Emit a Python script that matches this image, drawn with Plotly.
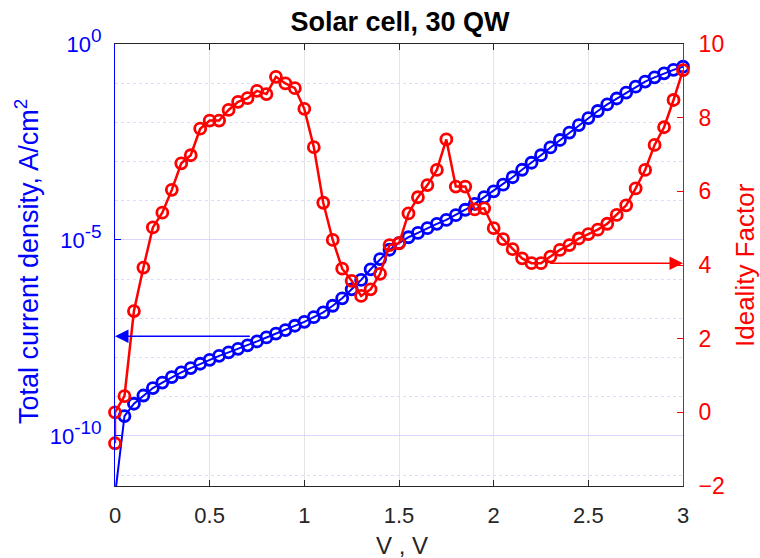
import plotly.graph_objects as go

# ---- data ----
voltage = [0.00, 0.05, 0.10, 0.15, 0.20, 0.25, 0.30, 0.35, 0.40, 0.45,
           0.50, 0.55, 0.60, 0.65, 0.70, 0.75, 0.80, 0.85, 0.90, 0.95,
           1.00, 1.05, 1.10, 1.15, 1.20, 1.25, 1.30, 1.35, 1.40, 1.45,
           1.50, 1.55, 1.60, 1.65, 1.70, 1.75, 1.80, 1.85, 1.90, 1.95,
           2.00, 2.05, 2.10, 2.15, 2.20, 2.25, 2.30, 2.35, 2.40, 2.45,
           2.50, 2.55, 2.60, 2.65, 2.70, 2.75, 2.80, 2.85, 2.90, 2.95, 3.00]

# current density (A/cm^2)
current_density = [3e-12, 3.2e-10, 6.6e-10, 1.07e-09, 1.66e-09, 2.29e-09, 3.16e-09, 4.17e-09, 5.37e-09, 6.92e-09,
                   8.71e-09, 1.10e-08, 1.35e-08, 1.66e-08, 2.04e-08, 2.57e-08, 3.24e-08, 4.07e-08, 5.01e-08, 6.46e-08,
                   8.13e-08, 1.07e-07, 1.41e-07, 2.09e-07, 3.24e-07, 5.50e-07, 9.55e-07, 1.78e-06, 3.24e-06, 5.62e-06,
                   8.32e-06, 1.17e-05, 1.51e-05, 2.00e-05, 2.57e-05, 3.24e-05, 4.27e-05, 5.89e-05, 8.32e-05, 1.23e-04,
                   1.74e-04, 2.57e-04, 3.98e-04, 6.17e-04, 9.33e-04, 1.45e-03, 2.29e-03, 3.55e-03, 5.50e-03, 8.51e-03,
                   1.29e-02, 1.95e-02, 2.88e-02, 4.07e-02, 5.75e-02, 8.13e-02, 1.10e-01, 1.41e-01, 1.78e-01, 2.19e-01, 2.63e-01]

ideality_voltage = [0.00] + voltage
ideality_factor = [-0.84, 0.00, 0.44, 2.75, 3.93, 5.02, 5.42, 6.04, 6.76, 6.98, 7.70,
                   7.92, 7.92, 8.21, 8.43, 8.53, 8.73, 8.64, 9.11, 8.93, 8.80,
                   8.24, 7.20, 5.69, 4.68, 3.90, 3.57, 3.16, 3.34, 3.76, 4.54,
                   4.59, 5.40, 5.84, 6.17, 6.58, 7.41, 6.13, 6.13, 5.51, 5.54,
                   5.00, 4.70, 4.43, 4.18, 4.05, 4.05, 4.23, 4.41, 4.54, 4.72,
                   4.84, 4.96, 5.12, 5.36, 5.62, 6.08, 6.58, 7.26, 7.74, 8.48, 9.29]

x_ticks = [0, 0.5, 1, 1.5, 2, 2.5, 3]
x_tick_labels = ["0", "0.5", "1", "1.5", "2", "2.5", "3"]
y_ticks = [1e0, 1e-5, 1e-10]
y_tick_exponents = ["0", "-5", "-10"]
y2_ticks = [-2, 0, 2, 4, 6, 8, 10]

FONT = "Liberation Sans, Arial, sans-serif"
BLUE = "#0000ff"
RED = "#ff0000"

y_tick_labels = ['10<sup><span style="font-size:19px">%s</span></sup>' % e for e in y_tick_exponents]

fig = go.Figure()
# blue line (clipped at the axes so the V=0 point runs off the bottom)
fig.add_trace(go.Scatter(
    x=voltage, y=current_density, mode="lines", yaxis="y",
    line=dict(color=BLUE, width=2), cliponaxis=True, showlegend=False))
# blue markers (points inside the axes)
fig.add_trace(go.Scatter(
    x=voltage[1:], y=current_density[1:], mode="markers", yaxis="y",
    marker=dict(symbol="circle-open", size=11, color=BLUE, line=dict(width=2.8, color=BLUE)),
    cliponaxis=False, showlegend=False))
fig.add_trace(go.Scatter(
    x=ideality_voltage, y=ideality_factor, mode="lines+markers", yaxis="y2",
    line=dict(color=RED, width=2.5),
    marker=dict(symbol="circle-open", size=11, color=RED, line=dict(width=2.8, color=RED)),
    cliponaxis=False, showlegend=False))

fig.update_layout(
    width=760, height=558,
    margin=dict(l=115, r=77, t=44, b=72, autoexpand=False),
    paper_bgcolor="white", plot_bgcolor="white",
    font=dict(family=FONT),
    title=dict(text="<b>Solar cell, 30 QW</b>", x=(400 / 760), xanchor="center",
               y=1 - 22 / 558, yanchor="middle", yref="container",
               font=dict(size=27, color="#000000", family=FONT)),
    xaxis=dict(range=[0, 3], tickvals=x_ticks, ticktext=x_tick_labels,
               showline=True, linecolor="#262626", linewidth=1, mirror="ticks",
               ticks="inside", ticklen=6, tickcolor="#262626",
               showgrid=True, gridcolor="#e3e3e3", gridwidth=1,
               zeroline=False, ticklabelstandoff=10,
               tickfont=dict(size=22, color="#262626", family=FONT)),
    yaxis=dict(type="log", range=[-11.28, 0],
               tickvals=y_ticks, ticktext=y_tick_labels,
               showline=True, linecolor=BLUE, linewidth=1,
               ticks="inside", ticklen=6, tickcolor=BLUE,
               showgrid=True, gridcolor="#d6d6ff", gridwidth=1,
               minor=dict(dtick=1, showgrid=True, gridcolor="#dcdcff", griddash="dot", ticks=""),
               zeroline=False, ticklabelstandoff=8,
               tickfont=dict(size=22, color=BLUE, family=FONT)),
    yaxis2=dict(range=[-2, 10], tickvals=y2_ticks, overlaying="y", side="right",
                showline=True, linecolor=RED, linewidth=1,
                ticks="inside", ticklen=6, tickcolor=RED,
                showgrid=False, zeroline=False, ticklabelstandoff=10,
                tickfont=dict(size=23, color=RED, family=FONT)),
    annotations=[
        dict(text="Total current density, A/cm<sup>2</sup>", xref="paper", yref="paper",
             x=(27 - 115) / 568, y=(486 - 262) / 442, textangle=-90, showarrow=False,
             xanchor="center", yanchor="middle", font=dict(size=27, color=BLUE, family=FONT)),
        dict(text="Ideality Factor", xref="paper", yref="paper",
             x=(745 - 115) / 568, y=(486 - 265) / 442, textangle=-90, showarrow=False,
             xanchor="center", yanchor="middle", font=dict(size=26, color=RED, family=FONT)),
        dict(text="V , V", xref="paper", yref="paper",
             x=(402 - 115) / 568, y=(486 - 545) / 442, showarrow=False,
             xanchor="center", yanchor="middle", font=dict(size=24, color="#262626", family=FONT)),
        dict(text="", x=0, y=-7.46, xref="x", yref="y",
             ax=0.72, ay=-7.46, axref="x", ayref="y",
             showarrow=True, arrowhead=2, arrowsize=1.8, arrowwidth=1.5, arrowcolor=BLUE),
        dict(text="", x=3.0, y=4.05, xref="x", yref="y2",
             ax=2.29, ay=4.05, axref="x", ayref="y2",
             showarrow=True, arrowhead=2, arrowsize=1.8, arrowwidth=1.5, arrowcolor=RED),
    ],
)

fig.write_html("out.html")
